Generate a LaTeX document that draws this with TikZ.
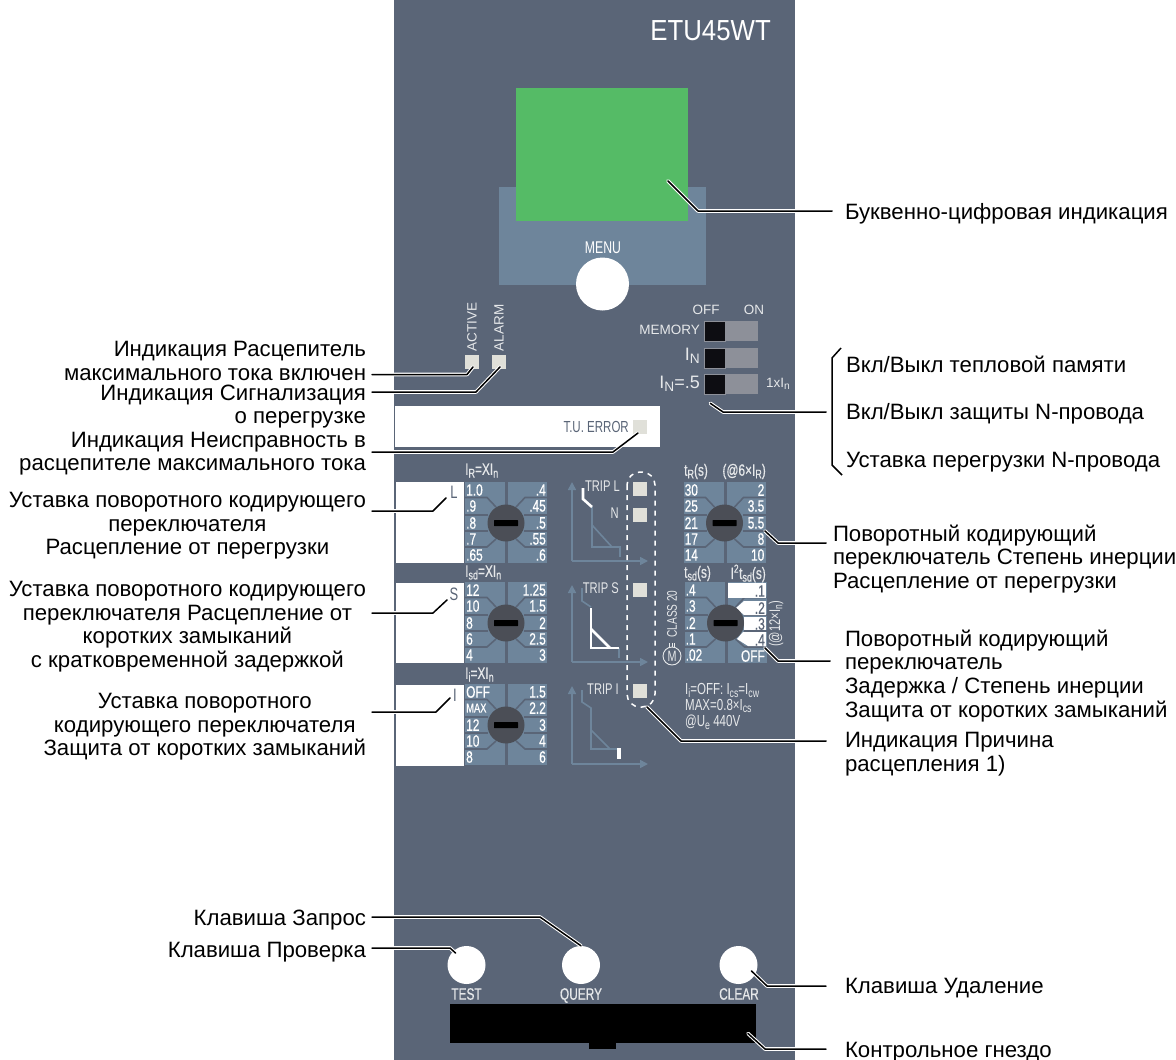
\documentclass[tikz,border=0pt]{standalone}
\usepackage{fontspec}
\setmainfont{Liberation Sans}
\newfontfamily\narrowf[FakeStretch=0.72]{Liberation Sans}
\newfontfamily\dialf[FakeStretch=0.72,FakeBold=0.5]{Liberation Sans}
\newfontfamily\titlef[FakeStretch=0.89]{Liberation Sans}
\usetikzlibrary{arrows.meta,calc}
\definecolor{panelc}{HTML}{5A6577}
\definecolor{bluec}{HTML}{6E859B}
\definecolor{greenc}{HTML}{55BB66}
\definecolor{ledc}{HTML}{E0E0D9}
\definecolor{knobc}{HTML}{4B4E56}
\definecolor{greyc}{HTML}{8D9099}
\definecolor{inkc}{HTML}{0D0D12}
\definecolor{labc}{HTML}{E6E8EA}
\newcommand\lsub[1]{\raisebox{-0.16em}{\scalebox{0.76}{#1}}}
\newcommand\panelpath{(394,0) rectangle (795,1060)}
\newcommand\callout[1]{%
  \begin{scope}\clip \panelpath; \draw[halo] #1;\end{scope}
  \draw[leader] #1;}
\newcommand\dialbase[3]{%
  \fill[bluec] (#1-41,#2-41) rectangle (#1-1,#2+40);
  \fill[bluec] (#1+2,#2-41) rectangle (#1+41,#2+40);
  \foreach \s in {-1,1}{
    \draw[trace] (#1+\s*41,#2-25.5) -- (#1+\s*19,#2-25.5) -- (#1+\s*10,#2-16);
    \draw[trace] (#1+\s*41,#2-8) -- (#1+\s*18,#2-8);
    \draw[trace] (#1+\s*41,#2+8) -- (#1+\s*18,#2+8);
    \draw[trace] (#1+\s*41,#2+24) -- (#1+\s*19,#2+24) -- (#1+\s*10,#2+16);
  }}
\newcommand\dialknob[3]{%
  \node[knobnode] (#3) at (#1,#2) {};
  \fill[black,rounded corners=0.5] (#1-12,#2-3) rectangle (#1+12,#2+3);}
\newcommand\leftrows[7]{%
  \node[dialtxt,anchor=west] at (#1-40,#2-33) {#3};
  \node[dialtxt,anchor=west] at (#1-40,#2-17) {#4};
  \node[dialtxt,anchor=west] at (#1-40,#2) {#5};
  \node[dialtxt,anchor=west] at (#1-40,#2+16) {#6};
  \node[dialtxt,anchor=west] at (#1-40,#2+32) {#7};}
\newcommand\rightrows[7]{%
  \node[dialtxt,anchor=east] at (#1+40,#2-33) {#3};
  \node[dialtxt,anchor=east] at (#1+40,#2-17) {#4};
  \node[dialtxt,anchor=east] at (#1+40,#2) {#5};
  \node[dialtxt,anchor=east] at (#1+40,#2+16) {#6};
  \node[dialtxt,anchor=east] at (#1+40,#2+32) {#7};}
\tikzset{
  halo/.style={white,line width=3.6,line join=round,line cap=round},
  leader/.style={black,line width=1.5,line join=round,line cap=round},
  trace/.style={panelc,line width=1.6},
  knobnode/.style={circle,fill=knobc,minimum size=37,inner sep=0},
  dialtxt/.style={text=white,font=\dialf\fontsize{16.5}{17}\selectfont,inner sep=0},
  head/.style={text=labc,font=\dialf\fontsize{16.5}{17}\selectfont,inner sep=0},
  small/.style={text=labc,font=\narrowf\fontsize{15.5}{16}\selectfont,inner sep=0},
  plate/.style={text=labc,font=\fontsize{13.5}{14}\selectfont,inner sep=0},
  ledbox/.style={fill=ledc,minimum size=14,inner sep=0},
  btn/.style={circle,fill=white,minimum size=38,inner sep=0},
  callleft/.style={anchor=east,align=right,inner sep=0,outer sep=6,text=black,font=\fontsize{22.2}{23.6}\selectfont},
  callcenter/.style={anchor=east,align=center,inner sep=0,outer sep=6,text=black,font=\fontsize{22.2}{23.6}\selectfont},
  callright/.style={anchor=west,align=left,inner sep=0,text=black,font=\fontsize{22.2}{23.9}\selectfont},
  thincurve/.style={bluec,line width=1.6},
  thickcurve/.style={white,line width=2.6,line join=miter},
  axisline/.style={bluec,line width=1.6,-{Triangle[length=8,width=8]}},
  swblack/.style={fill=inkc,draw=greyc,line width=0.6,minimum width=21,minimum height=20,inner sep=0},
}
\begin{document}
\begin{tikzpicture}[x=1pt,y=-1pt]
\useasboundingbox (0,0) rectangle (1176,1060);
\fill[white] (0,0) rectangle (1176,1060);
\fill[panelc] \panelpath;
\node[anchor=east,text=white,inner sep=0,font=\titlef\fontsize{29}{30}\selectfont] (title) at (771,31) {ETU45WT};
% display
\fill[bluec] (499,187) rectangle (706,285);
\node[fill=greenc,minimum width=172,minimum height=133,inner sep=0] (display) at (602,154.5) {};
\node[text=white,inner sep=0,font=\narrowf\fontsize{17}{18}\selectfont] (menulbl) at (603,248) {MENU};
\node[circle,fill=white,minimum size=53,inner sep=0] (menubtn) at (602.5,284) {};
% LEDs top
\node[ledbox] (ledactive) at (472,362) {};
\node[ledbox] (ledalarm) at (499,362) {};
\node[plate,rotate=90] (lblactive) at (472,327) {ACTIVE};
\node[plate,rotate=90] (lblalarm) at (499,328) {ALARM};
% switches
\node[plate] (lbloff) at (706,310) {OFF};
\node[plate] (lblon) at (754,310) {ON};
\foreach \nm/\yy in {swa/331,swb/358,swc/384}{
  \fill[greyc] (704,\yy-10) rectangle (758,\yy+10);
  \node[swblack,anchor=west] (\nm) at (704,\yy) {};
}
\node[plate,anchor=east] (lblmem) at (700,330) {MEMORY};
\node[plate,anchor=east,font=\fontsize{18}{19}\selectfont] (lblin) at (700,356) {I\lsub{N}};
\node[plate,anchor=east,font=\fontsize{18}{19}\selectfont] (lblin5) at (700,384) {I\lsub{N}=.5};
\node[plate,anchor=west] (lbl1x) at (766,384) {1xI\lsub{n}};
% T.U. error
\fill[white] (395,406) rectangle (660,447);
\node[anchor=east,text=panelc,inner sep=0,font=\narrowf\fontsize{16}{17}\selectfont] (lbltu) at (629,427) {T.U. ERROR};
\node[ledbox] (ledtu) at (640,427) {};
% white boxes
\fill[white] (396,482) rectangle (464,563);
\fill[white] (396,583) rectangle (464,663);
\fill[white] (396,685) rectangle (464,766);
\node[text=panelc,inner sep=0,font=\narrowf\fontsize{18}{19}\selectfont] (letL) at (454,492) {L};
\node[text=panelc,inner sep=0,font=\narrowf\fontsize{18}{19}\selectfont] (letS) at (454,594) {S};
\node[text=panelc,inner sep=0,font=\narrowf\fontsize{18}{19}\selectfont] (letI) at (455,695) {I};
% dials
\dialbase{506}{523}{}\dialknob{506}{523}{dialL}
\leftrows{506}{523}{1.0}{.9}{.8}{.7}{.65}\rightrows{506}{523}{.4}{.45}{.5}{.55}{.6}
\node[head,anchor=west] (hL) at (465,470.5) {I\lsub{R}=XI\lsub{n}};
\dialbase{506}{623}{}\dialknob{506}{623}{dialS}
\leftrows{506}{623}{12}{10}{8}{6}{4}\rightrows{506}{623}{1.25}{1.5}{2}{2.5}{3}
\node[head,anchor=west] (hS) at (465,572.5) {I\lsub{sd}=XI\lsub{n}};
\dialbase{506}{725}{}\dialknob{506}{725}{dialI}
\leftrows{506}{725}{OFF}{\fontsize{13}{13}\selectfont MAX}{12}{10}{8}\rightrows{506}{725}{1.5}{2.2}{3}{4}{6}
\node[head,anchor=west] (hI) at (465,674.5) {I\lsub{i}=XI\lsub{n}};
\dialbase{724.5}{523}{}\dialknob{724.5}{523}{dialTR}
\leftrows{724.5}{523}{30}{25}{21}{17}{14}\rightrows{724.5}{523}{2}{3.5}{5.5}{8}{10}
\node[head,anchor=west] (hTR) at (684,471.5) {t\lsub{R}(s)};
\node[head,anchor=east] (hTR2) at (766,471.5) {(@6×I\lsub{R})};
\dialbase{725.5}{623}{}
\fill[white] (728,583) rectangle (766,598);
\fill[white] (744,601) -- (766,601) -- (766,615) -- (744,615) -- (736,608) -- cycle;
\fill[white] (744,617) rectangle (766,630);
\fill[white] (743,632) -- (766,632) -- (766,646) -- (748,646) -- (737,639) -- cycle;
\dialknob{725.5}{623}{dialTS}
\leftrows{725.5}{623}{.4}{.3}{.2}{.1}{.02}
\node[dialtxt,anchor=east] at (765,591) {\color{panelc}.1};
\node[dialtxt,anchor=east] at (765,608) {\color{panelc}.2};
\node[dialtxt,anchor=east] at (765,624) {\color{panelc}.3};
\node[dialtxt,anchor=east] at (765,640) {\color{panelc}.4};
\node[dialtxt,anchor=east] at (765,656) {OFF};
\node[head,anchor=west] (hTS) at (684,573.5) {t\lsub{sd}(s)};
\node[head,anchor=east] (hTS2) at (766,573.5) {I\textsuperscript{2}t\lsub{sd}(s)};
\node[small,rotate=90] (h12) at (776,624) {(@12×I\lsub{n})};
\node[small,rotate=90,font=\narrowf\fontsize{14}{15}\selectfont] (lblclass) at (672,614) {CLASS 20};
\node[circle,draw=labc,line width=0.9,minimum size=18,inner sep=0,text=labc,font=\narrowf\fontsize{15}{16}\selectfont] (motor) at (672,656) {M};
\foreach \xx in {669.3,672,674.7}{\draw[labc,line width=1] (\xx,643) -- (\xx,647);}
\node[small,anchor=west,font=\narrowf\fontsize{16}{16}\selectfont] (note1) at (685,690.5) {I\lsub{i}=OFF: I\lsub{cs}=I\lsub{cw}};
\node[small,anchor=west,font=\narrowf\fontsize{16}{16}\selectfont] (note2) at (685,706) {MAX=0.8×I\lsub{cs}};
\node[small,anchor=west,font=\narrowf\fontsize{16}{16}\selectfont] (note3) at (685,722) {@U\lsub{e} 440V};
% curves L
\draw[axisline] (572,561) -- (572,482);
\draw[axisline] (572,561) -- (648,561);
\draw[thincurve] (592,507) -- (592,547) -- (620,547) -- (620,557);
\draw[thincurve] (592,525) -- (612,547);
\draw[thickcurve] (583,488) -- (583,499) -- (592,507);
% curves S
\draw[axisline] (572,662) -- (572,585);
\draw[axisline] (572,662) -- (648,662);
\draw[thincurve] (582,588) -- (582,601) -- (591,607);
\draw[thincurve] (619,648) -- (619,658);
\draw[thickcurve] (591,608) -- (591,648) -- (619,648);
\draw[thickcurve] (591,629) -- (610,648);
% curves I
\draw[axisline] (572,764) -- (572,686);
\draw[axisline] (572,764) -- (648,764);
\draw[thincurve] (582,690) -- (582,702) -- (591,708) -- (591,749) -- (619,749);
\draw[thincurve] (591,730) -- (610,749);
\draw[white,line width=4] (619,748) -- (619,759);
% trip
\draw[white,line width=1.5,dash pattern=on 5pt off 5pt,rounded corners=13] (627,472) rectangle (655,707);
\node[ledbox] (ledtl) at (640,489) {};
\node[ledbox] (ledn) at (640,515) {};
\node[ledbox] (ledts) at (640,590) {};
\node[ledbox] (ledti) at (640,691) {};
\node[small,anchor=east] (ltl) at (620,486) {TRIP L};
\node[small,anchor=east] (ln) at (619,513) {N};
\node[small,anchor=east] (lts) at (619,588) {TRIP S};
\node[small,anchor=east] (lti) at (619,689) {TRIP I};
% bottom
\node[btn] (btest) at (466.5,965) {};
\node[btn] (bquery) at (581,965) {};
\node[btn] (bclear) at (738.5,965) {};
\node[head] (ltest) at (466.5,994) {TEST};
\node[head] (lquery) at (581,995.5) {QUERY};
\node[head] (lclear) at (739,994) {CLEAR};
\fill[black] (589,1040) rectangle (616,1049);
\node[fill=black,minimum width=306,minimum height=39,inner sep=0] (socket) at (603,1023.5) {};
% left labels
\node[callleft] (t1) at (372,361) {Индикация Расцепитель\\максимального тока включен};
\node[callleft] (t2) at (372,406.5) {Индикация Сигнализация\\о перегрузке};
\node[callleft] (t3) at (372,453.5) {Индикация Неисправность в\\расцепителе максимального тока};
\node[callcenter] (t4) at (372,526) {Уставка поворотного кодирующего\\переключателя\\Расцепление от перегрузки};
\node[callcenter] (t5) at (372,626.5) {Уставка поворотного кодирующего\\переключателя Расцепление от\\коротких замыканий\\с кратковременной задержкой};
\node[callcenter] (t6) at (372,727) {Уставка поворотного\\кодирующего переключателя\\Защита от коротких замыканий};
\node[callleft] (t7) at (372,920) {Клавиша Запрос};
\node[callleft] (t8) at (372,952) {Клавиша Проверка};
% right labels
\node[callright,outer sep=13] (r1) at (832,214) {Буквенно-цифровая индикация};
\node[callright,outer sep=0] (r2) at (846,364) {Вкл/Выкл тепловой памяти};
\node[callright,outer sep=20] (r3) at (826,414) {Вкл/Выкл защиты N-провода};
\node[callright,outer sep=0] (r4) at (846,462) {Уставка перегрузки N-провода};
\node[callright,outer sep=7] (r5) at (826,559) {Поворотный кодирующий\\переключатель Степень инерции\\Расцепление от перегрузки};
\node[callright,outer sep=15] (r6) at (830,676) {Поворотный кодирующий\\переключатель\\Задержка / Степень инерции\\Защита от коротких замыканий};
\node[callright,outer sep=19] (r7) at (826,754) {Индикация Причина\\расцепления 1)};
\node[callright,outer sep=19] (r8) at (826,988) {Клавиша Удаление};
\node[callright,outer sep=19] (r9) at (826,1052) {Контрольное гнездо};
% elbows
\coordinate (k1) at (467,374.5);
\coordinate (k2) at (476,392);
\coordinate (k3) at (613,452);
\coordinate (k4) at (433,511);
\coordinate (k5) at (433,613);
\coordinate (k6) at (436,712);
\coordinate (k7) at (540,917);
\coordinate (k8) at (450,948);
\coordinate (kr1) at (698,211);
\coordinate (kr3) at (723,412);
\coordinate (kr5) at (778,543);
\coordinate (kr6) at (778,661);
\coordinate (kr7) at (681,741);
\coordinate (kr8) at (767,986);
\coordinate (kr9) at (765,1049);
\coordinate (brtop) at (841,348);
\coordinate (bra) at (832,358);
\coordinate (brb) at (832,465);
\coordinate (brbot) at (842,475);
\draw[leader,line cap=butt] (brtop) -- (bra) -- (brb) -- (brbot);
% connectors
\callout{(t1.east |- k1) -- (k1) -- ([shift={(1,5)}]ledactive.center)}
\callout{(t2.east |- k2) -- (k2) -- ([shift={(1,5)}]ledalarm.center)}
\callout{(t3.east |- k3) -- (k3) -- ([shift={(-2,6)}]ledtu.center)}
\callout{(t4.east |- k4) -- (k4) -- ([shift={(-8,6)}]letL.center)}
\callout{(t5.east |- k5) -- (k5) -- ([shift={(-7,6)}]letS.center)}
\callout{(t6.east |- k6) -- (k6) -- ([shift={(-5,3)}]letI.center)}
\callout{(t7.east |- k7) -- (k7) -- (bquery.north)}
\callout{(t8.east |- k8) -- (k8) -- ([shift={(-11,-12)}]btest.center)}
\callout{(r1.west |- kr1) -- (kr1) -- ([shift={(66,26.5)}]display.center)}
\callout{(r3.west |- kr3) -- (kr3) -- ([shift={(-4.5,9)}]swc.south)}
\callout{(r5.west |- kr5) -- (kr5) -- ([shift={(40.5,8)}]dialTR.center)}
\callout{(r6.west |- kr6) -- (kr6) -- ([shift={(39.5,25)}]dialTS.center)}
\callout{(r7.west |- kr7) -- (kr7) -- ([shift={(7,16)}]ledti.center)}
\callout{(r8.west |- kr8) -- (kr8) -- ([shift={(13,6)}]bclear.center)}
\callout{(r9.west |- kr9) -- (kr9) -- ([shift={(145,10)}]socket.center)}
\end{tikzpicture}
\end{document}
